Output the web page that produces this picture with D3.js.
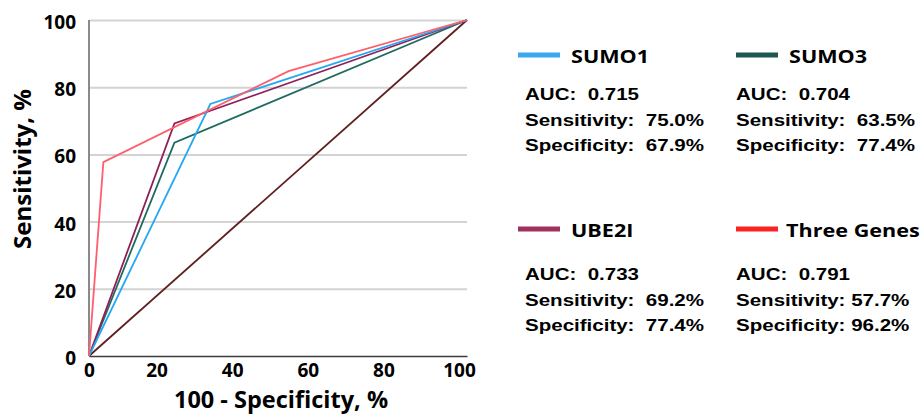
<!DOCTYPE html>
<html>
<head>
<meta charset="utf-8">
<script src="https://cdn.jsdelivr.net/npm/d3@7"></script>
<style>
  html, body { margin: 0; padding: 0; background: #fff; }
  svg { display: block; }
</style>
</head>
<body>
<svg id="chart" width="921" height="414"></svg>
<script>
// ---------------- data ----------------
const categories = ["SUMO1", "SUMO3", "UBE2I", "Three Genes"];
const sumo1X = [0, 32.1, 100];
const sumo1Y = [0, 75.0, 100];
const sumo3X = [0, 22.6, 100];
const sumo3Y = [0, 63.5, 100];
const ube2iX = [0, 22.6, 100];
const ube2iY = [0, 69.2, 100];
const threeX = [0, 3.8, 52.8, 100];
const threeY = [0, 57.7, 84.8, 100];
const refX = [0, 100];
const refY = [0, 100];
const aucValues = ["0.715", "0.704", "0.733", "0.791"];
const sensValues = ["75.0%", "63.5%", "69.2%", "57.7%"];
const specValues = ["67.9%", "77.4%", "77.4%", "96.2%"];
const tickValues = [0, 20, 40, 60, 80, 100];

// ---------------- style ----------------
const lineColors = ["#25a8f2", "#1f6b61", "#8f2158", "#ff5e6c"];
const swatchColors = ["#3aa8ee", "#1d5752", "#a1305f", "#ff2222"];
const refColor = "#5e1e1e";

const svg = d3.select("#chart");
svg.append("rect").attr("width", 921).attr("height", 414).attr("fill", "#fff");

const x = d3.scaleLinear().domain([0, 100]).range([89, 467]);
const y = d3.scaleLinear().domain([0, 100]).range([356, 20]);

// gridlines + y axis
const yAxis = d3.axisLeft(y).tickValues(tickValues).tickSize(-(x(100) - x(0))).tickPadding(13);
const gy = svg.append("g").attr("transform", `translate(${x(0)},0)`).call(yAxis);
gy.select(".domain").remove();
gy.selectAll(".tick line").attr("stroke", "#d3d3d3").attr("stroke-width", 2)
  .filter(d => d === 0).remove();
gy.selectAll(".tick text")
  .attr("font-family", "'Open Sans', sans-serif").attr("font-weight", 700)
  .attr("font-size", 19).attr("fill", "#000").attr("dy", "0.45em");

// left axis line
svg.append("line").attr("x1", x(0)).attr("x2", x(0)).attr("y1", y(100)).attr("y2", y(0))
  .attr("stroke", "#8a8a8a").attr("stroke-width", 2);

// x axis
const xAxis = d3.axisBottom(x).tickValues(tickValues).tickSize(0).tickPadding(8);
const gx = svg.append("g").attr("transform", `translate(0,${y(0)})`).call(xAxis);
gx.select(".domain").attr("stroke", "#3c3c3c").attr("stroke-width", 1.6);
gx.selectAll(".tick text")
  .attr("font-family", "'Open Sans', sans-serif").attr("font-weight", 700)
  .attr("font-size", 19).attr("fill", "#000")
  .attr("dx", d => d === 0 ? 0 : -8);

// axis titles
svg.append("text").attr("x", (x(0) + x(100)) / 2 + 3).attr("y", 408)
  .attr("text-anchor", "middle")
  .attr("font-family", "'Open Sans', sans-serif").attr("font-weight", 700)
  .attr("font-size", 23.5).attr("fill", "#000")
  .text("100 - Specificity, %");
svg.append("text").attr("transform", "translate(31,169) rotate(-90)")
  .attr("text-anchor", "middle")
  .attr("font-family", "'Open Sans', sans-serif").attr("font-weight", 700)
  .attr("font-size", 24).attr("fill", "#000")
  .text("Sensitivity, %");

// lines
const lineGen = d3.line().x(d => x(d[0])).y(d => y(d[1]));
const seriesData = [
  d3.zip(sumo1X, sumo1Y),
  d3.zip(sumo3X, sumo3Y),
  d3.zip(ube2iX, ube2iY),
  d3.zip(threeX, threeY)
];
svg.append("path").attr("d", lineGen(d3.zip(refX, refY)))
  .attr("fill", "none").attr("stroke", refColor).attr("stroke-width", 1.8);
[1, 2, 0, 3].forEach(i => {
  svg.append("path").attr("d", lineGen(seriesData[i]))
    .attr("fill", "none").attr("stroke", lineColors[i]).attr("stroke-width", 1.8)
    .attr("stroke-linejoin", "miter");
});

// legend
const colX = [518, 736];
const textX = [525, 736];
const rowY = [0, 174];
const stretch = 1.18;
categories.forEach((name, i) => {
  const col = i % 2;
  const cx = colX[col];
  const oy = rowY[Math.floor(i / 2)];
  const g = svg.append("g");
  g.append("line").attr("x1", cx).attr("x2", cx + 42).attr("y1", 55 + oy).attr("y2", 55 + oy)
    .attr("stroke", swatchColors[i]).attr("stroke-width", 5);
  g.append("text")
    .attr("transform", `translate(${cx + (i === 3 ? 50 : 53)},${63 + oy}) scale(1.2,1)`)
    .attr("font-family", "'Open Sans', sans-serif").attr("font-weight", 700)
    .attr("font-size", 18).attr("fill", "#000").text(name);
  const lines = [
    "AUC:  " + aucValues[i],
    "Sensitivity:" + (i === 3 ? " " : "  ") + sensValues[i],
    "Specificity:" + (i === 3 ? " " : "  ") + specValues[i]
  ];
  const base = [100, 126, 151];
  lines.forEach((t, k) => {
    g.append("text")
      .attr("transform", `translate(${textX[col]},${base[k] + oy + (i >= 2 ? 6 : 0)}) scale(${stretch},1)`)
      .attr("font-family", "'Liberation Sans', Arial, sans-serif").attr("font-weight", 700)
      .attr("font-size", 17.4).attr("fill", "#000")
      .style("white-space", "pre").text(t);
  });
});
</script>
</body>
</html>
